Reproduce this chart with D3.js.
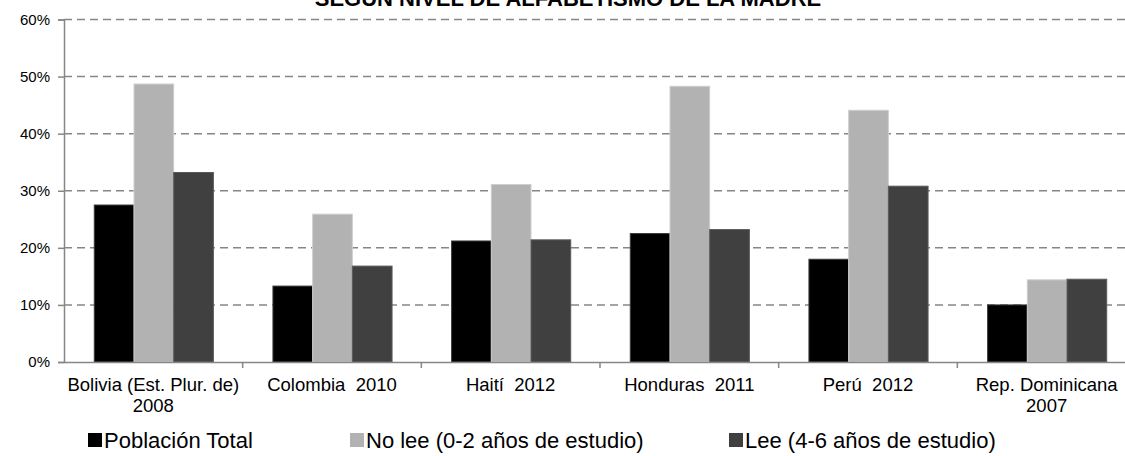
<!DOCTYPE html>
<html>
<head>
<meta charset="utf-8">
<script src="https://cdn.jsdelivr.net/npm/d3@7"></script>
<style>
  body { margin: 0; background: #fff; }
  svg { display: block; font-family: "Liberation Sans", Arial, sans-serif; }
</style>
</head>
<body>
<div id="app"></div>
<script>
// datos
const categories = ["Bolivia (Est. Plur. de)|2008", "Colombia  2010", "Haití  2012", "Honduras  2011", "Perú  2012", "Rep. Dominicana|2007"];
const seriesNames = ["Población Total", "No lee (0-2 años de estudio)", "Lee (4-6 años de estudio)"];
const poblacionTotal = [0.275, 0.133, 0.212, 0.225, 0.180, 0.100];
const noLee = [0.487, 0.259, 0.311, 0.483, 0.441, 0.144];
const lee = [0.332, 0.168, 0.214, 0.232, 0.308, 0.145];
const yTicks = [0, 0.1, 0.2, 0.3, 0.4, 0.5, 0.6];

const W = 1125, H = 456;
const colors = ["#000000", "#b2b2b2", "#404040"];
const strokes = ["#3a3a3a", "#cfcfcf", "#5a5a5a"];

const svg = d3.select("#app").append("svg")
    .attr("width", W)
    .attr("height", H);

// escalas
const x0 = d3.scaleBand().domain(categories).range([64, 1136]).padding(0);
const x1 = d3.scaleBand().domain(d3.range(3)).range([0, x0.bandwidth()])
    .paddingInner(0).paddingOuter(0.75);
const y = d3.scaleLinear().domain([0, 0.6]).range([362, 19.5]);

// lineas de cuadricula
svg.append("g")
    .selectAll("line")
    .data(yTicks.slice(1))
    .enter().append("line")
    .attr("x1", 64).attr("x2", W)
    .attr("y1", d => y(d)).attr("y2", d => y(d))
    .attr("stroke", "#868686")
    .attr("stroke-width", 1.5)
    .attr("stroke-dasharray", "8,5");

// barras
const rows = categories.map((c, i) => ({ cat: c, vals: [poblacionTotal[i], noLee[i], lee[i]] }));
const grp = svg.append("g").selectAll("g")
    .data(rows)
    .enter().append("g")
    .attr("transform", d => `translate(${x0(d.cat)},0)`);

grp.selectAll("rect")
    .data(d => d.vals.map((v, k) => ({ v, k })))
    .enter().append("rect")
    .attr("x", d => x1(d.k) + 0.5)
    .attr("width", x1.bandwidth())
    .attr("y", d => y(d.v))
    .attr("height", d => y(0) - y(d.v))
    .attr("fill", d => colors[d.k])
    .attr("stroke", d => strokes[d.k])
    .attr("stroke-width", 1);

// eje Y
const yAxis = svg.append("g")
    .attr("transform", "translate(64,0)")
    .call(d3.axisLeft(y).tickValues(yTicks).tickFormat(d3.format(".0%")).tickSize(6).tickPadding(8));
yAxis.select(".domain").attr("stroke", "#868686").attr("stroke-width", 1.5);
yAxis.selectAll(".tick line").attr("stroke", "#868686").attr("stroke-width", 1.5);
yAxis.selectAll("text").attr("fill", "#000").style("font-size", "15px").style("font-family", "Liberation Sans, Arial, sans-serif");

// eje X
const xAxis = svg.append("g")
    .attr("transform", "translate(0,362)")
    .call(d3.axisBottom(x0).tickSize(0).tickFormat(""));
xAxis.select(".domain").attr("stroke", "#868686").attr("stroke-width", 1.5);
xAxis.selectAll(".tick").remove();

// marcas entre categorias
svg.append("g").selectAll("line")
    .data(categories.slice(1))
    .enter().append("line")
    .attr("x1", d => x0(d)).attr("x2", d => x0(d))
    .attr("y1", 362).attr("y2", 368)
    .attr("stroke", "#868686")
    .attr("stroke-width", 1.5);

// etiquetas de categorias
const lbl = svg.append("g").selectAll("text")
    .data(categories)
    .enter().append("text")
    .attr("x", d => x0(d) + x0.bandwidth() / 2)
    .attr("y", 391)
    .attr("text-anchor", "middle")
    .style("font-size", "18.5px")
    .attr("fill", "#000");
lbl.selectAll("tspan")
    .data(d => d.split("|"))
    .enter().append("tspan")
    .attr("x", function () { return d3.select(this.parentNode).attr("x"); })
    .attr("dy", (d, i) => i === 0 ? 0 : 21)
    .style("white-space", "pre")
    .text(d => d);

// titulo (cortado arriba)
svg.append("text")
    .attr("x", 568)
    .attr("y", 6)
    .attr("text-anchor", "middle")
    .style("font-size", "22px")
    .style("font-weight", "bold")
    .text("SEGÚN NIVEL DE ALFABETISMO DE LA MADRE");

// leyenda
const legX = [88, 350, 729];
const leg = svg.append("g").selectAll("g")
    .data(seriesNames)
    .enter().append("g")
    .attr("transform", (d, i) => `translate(${legX[i]},448)`);
leg.append("rect")
    .attr("x", 0).attr("y", -15)
    .attr("width", 14).attr("height", 14)
    .attr("fill", (d, i) => colors[i]);
leg.append("text")
    .attr("x", 16)
    .attr("y", 0)
    .style("font-size", "22px")
    .attr("fill", "#000")
    .text(d => d);
</script>
</body>
</html>
